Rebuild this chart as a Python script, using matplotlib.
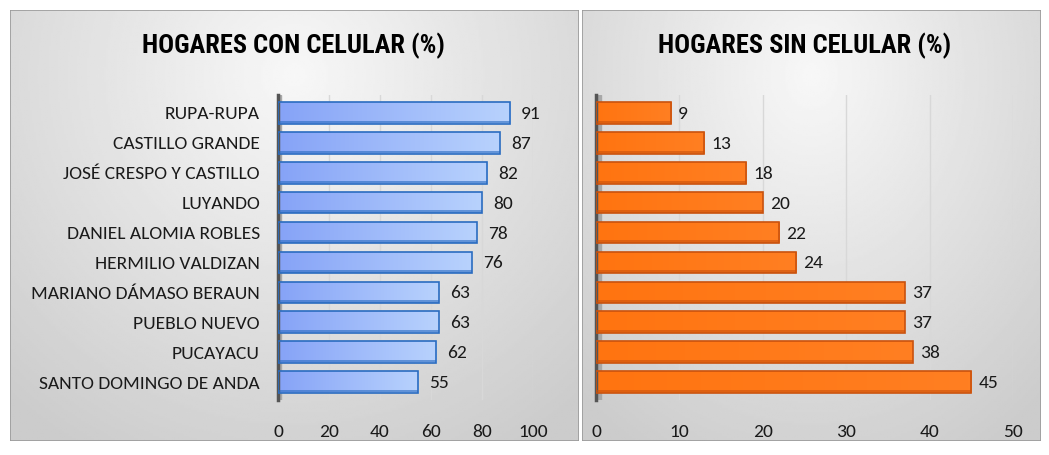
import numpy as np
import matplotlib.pyplot as plt
from matplotlib.patches import Rectangle
from matplotlib.colors import LinearSegmentedColormap

# datos
distritos = ["RUPA-RUPA", "CASTILLO GRANDE", "JOSÉ CRESPO Y CASTILLO", "LUYANDO",
             "DANIEL ALOMIA ROBLES", "HERMILIO VALDIZAN", "MARIANO DÁMASO BERAUN",
             "PUEBLO NUEVO", "PUCAYACU", "SANTO DOMINGO DE ANDA"]
con_celular = [91, 87, 82, 80, 78, 76, 63, 63, 62, 55]
sin_celular = [9, 13, 18, 20, 22, 24, 37, 37, 38, 45]
ticks_con = [0, 20, 40, 60, 80, 100]
ticks_sin = [0, 10, 20, 30, 40, 50]

title_font = ['Roboto Condensed', 'DejaVu Sans']
label_font = ['Carlito', 'DejaVu Sans']

fig = plt.figure(figsize=(10.49, 4.55), dpi=100)
W, H = 1049, 455

# fondos de los paneles (degradado gris)
def panel(x0, x1, y0, y1):
    ax = fig.add_axes([x0 / W, 1 - y1 / H, (x1 - x0) / W, (y1 - y0) / H])
    yy, xx = np.mgrid[0:1:200j, 0:1:300j]
    d = np.sqrt(((xx - 0.5) / 0.75) ** 2 + ((yy - 0.15) / 1.0) ** 2)
    g = 0.97 - 0.17 * np.clip(d, 0, 1)
    ax.imshow(g, cmap='gray', vmin=0, vmax=1, aspect='auto', extent=[0, 1, 0, 1], origin='upper')
    ax.add_patch(Rectangle((0, 0), 1, 1, fill=False, ec='#9a9a9a', lw=1.2, transform=ax.transAxes))
    ax.set_axis_off()

panel(10, 579, 10, 441)
panel(582, 1041, 10, 441)

def barras(axpos, valores, ticks, xmax, colores, borde, con_etiquetas, titulo, tx, gap):
    ax = fig.add_axes(axpos)
    ax.patch.set_alpha(0)
    y = np.arange(len(valores))[::-1]
    bars = ax.barh(y, valores, height=0.72, color='none', edgecolor=borde, lw=1.2, zorder=3)
    for b, v in zip(bars, valores):
        grad = np.linspace(0, 1, 100).reshape(1, -1)
        im = ax.imshow(grad, cmap=colores, aspect='auto', zorder=2,
                       extent=[0, v, b.get_y(), b.get_y() + b.get_height()])
        im.set_clip_path(b)
        # sombra inferior para efecto 3D
        ax.barh(b.get_y() + 0.02, v, height=0.08, align='edge', color=borde, alpha=0.6, zorder=3, lw=0)
        ax.annotate(str(v), (v, b.get_y() + b.get_height() / 2), xytext=(gap, -1),
                    textcoords='offset pixels', va='center', ha='left', fontsize=14,
                    family=label_font, color='#1a1a1a')
    ax.set_xlim(0, xmax)
    ax.set_ylim(-0.6, len(valores) - 0.4)
    ax.set_xticks(ticks)
    ax.set_xticklabels([str(t) for t in ticks], family=label_font, fontsize=14, color='#1a1a1a')
    ax.tick_params(axis='x', length=0, pad=17)
    ax.set_yticks(y)
    if con_etiquetas:
        ax.set_yticklabels(distritos, family=label_font, fontsize=14, color='#1a1a1a')
    else:
        ax.set_yticklabels([])
    ax.tick_params(axis='y', length=0, pad=13)
    for s in ['top', 'right', 'bottom']:
        ax.spines[s].set_visible(False)
    ax.spines['left'].set_color('#555555')
    ax.spines['left'].set_linewidth(2.5)
    ax.axvspan(0, xmax * 0.012, color='#a8a8a8', zorder=1)
    ax.grid(axis='x', color='#d8d8d8', lw=1, zorder=0)
    ax.set_axisbelow(True)
    fig.text(tx / W, 1 - 46 / H, titulo, ha='center', va='center', fontsize=19,
             fontweight='bold', family=title_font)
    return ax

azul = LinearSegmentedColormap.from_list('azul', ['#86a3f7', '#b8d2fd'])
naranja = LinearSegmentedColormap.from_list('naranja', ['#ff7410', '#ff7f22'])

barras([278 / W, 1 - 400 / H, 255 / W, 305 / H], con_celular, ticks_con, 100,
       azul, '#2a6cc0', True, "HOGARES CON CELULAR (%)", 293, 11)
barras([596 / W, 1 - 400 / H, 417 / W, 305 / H], sin_celular, ticks_sin, 50,
       naranja, '#c9520e', False, "HOGARES SIN CELULAR (%)", 805, 7)

fig.savefig("out.png", dpi=100)
